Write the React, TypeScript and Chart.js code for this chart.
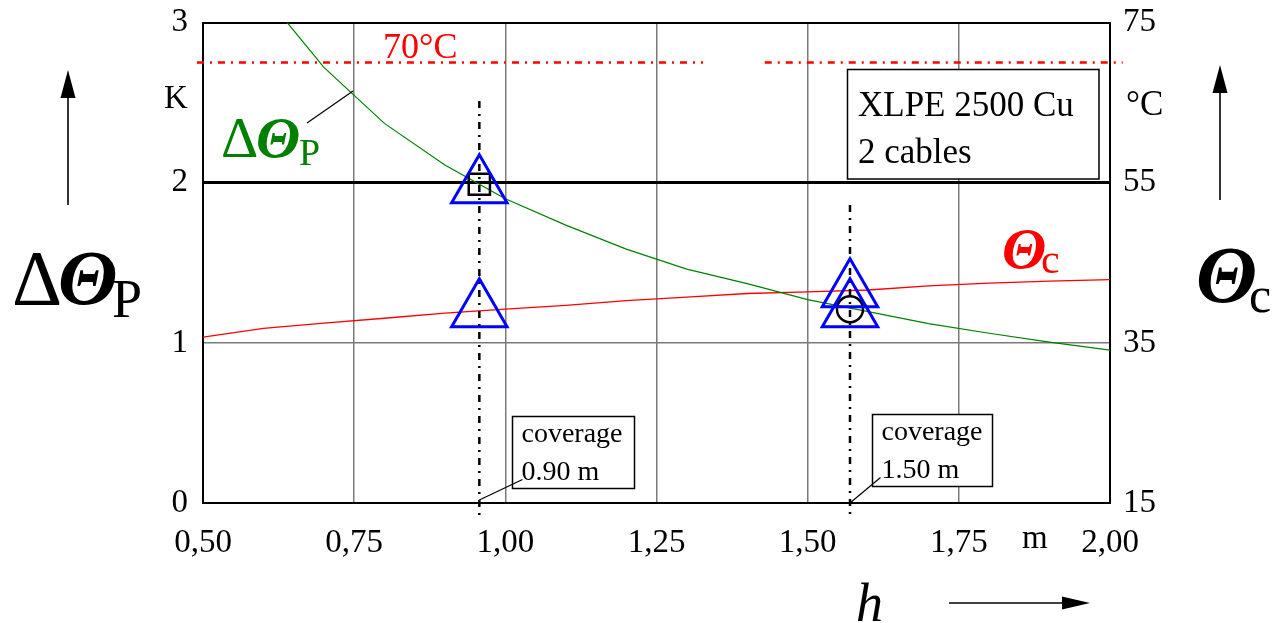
import React, { useEffect, useRef } from 'react';
import { Chart, registerables } from 'chart.js';

Chart.register(...registerables);

// ---- data ----
const xTickMin = 0.5;
const xTickMax = 2.0;
const xTickStep = 0.25;
const leftMin = 0;
const leftMax = 3;
const rightMin = 15;
const rightMax = 75;
const rightStep = 20;

// ΔΘP (K) versus depth h (m)
const greenH = [0.6, 0.7, 0.8, 0.9, 1.0, 1.1, 1.2, 1.3, 1.4, 1.5, 1.6, 1.7, 1.8, 1.9, 2.0];
const deltaThetaP = [3.18, 2.72, 2.37, 2.11, 1.9, 1.735, 1.585, 1.46, 1.37, 1.27, 1.195, 1.12, 1.06, 1.005, 0.954];

// Θc (°C) versus depth h (m)
const redH = [0.5, 0.6, 0.7, 0.8, 0.9, 1.0, 1.1, 1.2, 1.3, 1.4, 1.5, 1.6, 1.7, 1.8, 1.9, 2.0];
const thetaC = [35.7, 36.8, 37.45, 38.07, 38.71, 39.22, 39.68, 40.27, 40.72, 41.16, 41.36, 41.6, 42.1, 42.45, 42.7, 42.9];

// limit temperature line (°C), drawn in two pieces
const limitTemp = 70;
const limitPieces = [[0.49, 1.327], [1.429, 2.021]];

// coverage marks
const coverageH = [0.957, 1.57];
const coverageTop = [2.51, 1.86];
const coverageBottom = -0.075;
const coverageLabels = [['coverage', '0.90 m'], ['coverage', '1.50 m']];

// measured points
const triangleH = [0.957, 0.957, 1.57, 1.57];
const triangleVal = [1.975, 1.2, 1.325, 1.2];
const squareH = [0.957];
const squareVal = [1.99];
const circleH = [1.57];
const circleVal = [1.21];

const infoLines = ['XLPE 2500 Cu', '2 cables'];

const SERIF = '"Liberation Serif", "Times New Roman", serif';

const fmtX = (v: number) => v.toFixed(2).replace('.', ',');

const annotPlugin = {
  id: 'annot',
  afterDraw(chart: any) {
    const ctx: CanvasRenderingContext2D = chart.ctx;
    const xs = chart.scales.x;
    const ys = chart.scales.y;
    ctx.save();
    const text = (s: string, x: number, y: number, font: string, color = '#000') => {
      ctx.font = font;
      ctx.fillStyle = color;
      ctx.textAlign = 'left';
      ctx.textBaseline = 'alphabetic';
      ctx.fillText(s, x, y);
    };
    const line = (x1: number, y1: number, x2: number, y2: number, w = 1.2, c = '#000') => {
      ctx.beginPath();
      ctx.strokeStyle = c;
      ctx.lineWidth = w;
      ctx.setLineDash([]);
      ctx.moveTo(x1, y1);
      ctx.lineTo(x2, y2);
      ctx.stroke();
    };
    const arrow = (x1: number, y1: number, x2: number, y2: number, len: number, half: number) => {
      const ang = Math.atan2(y2 - y1, x2 - x1);
      const bx = x2 - Math.cos(ang) * len;
      const by = y2 - Math.sin(ang) * len;
      line(x1, y1, bx, by, 1.6, '#000');
      ctx.beginPath();
      ctx.fillStyle = '#000';
      ctx.moveTo(x2, y2);
      ctx.lineTo(bx + Math.sin(ang) * half, by - Math.cos(ang) * half);
      ctx.lineTo(bx - Math.sin(ang) * half, by + Math.cos(ang) * half);
      ctx.closePath();
      ctx.fill();
    };

    // big left axis title ΔΘP
    text('Δ', 12, 304, `78px ${SERIF}`);
    text('Θ', 58, 304, `bold italic 78px ${SERIF}`);
    text('P', 112, 317, `54px ${SERIF}`);
    arrow(68, 205, 68, 70, 28, 7.5);

    // big right axis title Θc
    text('Θ', 1196, 302, `bold italic 80px ${SERIF}`);
    text('c', 1249, 312, `50px ${SERIF}`);
    arrow(1220, 200, 1220, 65, 28, 7.5);

    // x title h
    text('h', 856, 621, `italic 54px ${SERIF}`);
    arrow(949, 603, 1090, 603, 28, 6.5);

    // units
    text('K', 164, 108, `33px ${SERIF}`);
    text('°C', 1126, 115, `35px ${SERIF}`);
    text('m', 1022, 548, `33px ${SERIF}`);

    // curve labels
    const g = '#008000';
    text('Δ', 221, 157, `58px ${SERIF}`, g);
    text('Θ', 256, 157, `bold italic 58px ${SERIF}`, g);
    text('P', 299, 165, `38px ${SERIF}`, g);
    line(307, 123, 353, 91, 1.3);

    text('Θ', 1002, 268, `bold italic 58px ${SERIF}`, '#ff0000');
    text('c', 1041, 273, `42px ${SERIF}`, '#ff0000');

    text('70°C', 383, 58, `36px ${SERIF}`, '#ff0000');

    // info box
    ctx.fillStyle = '#fff';
    ctx.fillRect(848, 70, 251, 109);
    ctx.strokeStyle = '#000';
    ctx.lineWidth = 1.5;
    ctx.setLineDash([]);
    ctx.strokeRect(847.5, 69.5, 251.5, 109.5);
    text(infoLines[0], 858, 116, `35px ${SERIF}`);
    text(infoLines[1], 858, 163, `35px ${SERIF}`);

    // coverage boxes
    const boxOff = [33, 22];
    const boxW = [122, 120];
    const boxTop = [416, 414];
    coverageH.forEach((h, i) => {
      const px = xs.getPixelForValue(h);
      const bx = Math.round(px + boxOff[i]) + 0.5;
      const by = boxTop[i] + 0.5;
      ctx.fillStyle = '#fff';
      ctx.fillRect(bx, by, boxW[i], 72);
      ctx.strokeStyle = '#000';
      ctx.lineWidth = 1.5;
      ctx.strokeRect(bx, by, boxW[i], 72);
      text(coverageLabels[i][0], bx + 9, by + 25, `28px ${SERIF}`);
      text(coverageLabels[i][1], bx + 9, by + 63, `28px ${SERIF}`);
      line(px, ys.getPixelForValue(0) - (i === 0 ? 3 : 0), bx + (i === 0 ? 10 : 8), by + 63, 1.2);
    });

    ctx.restore();
  },
};

const noPad = (s: any) => {
  s.paddingTop = 0;
  s.paddingBottom = 0;
  s.paddingLeft = 0;
  s.paddingRight = 0;
};

export default function App() {
  const ref = useRef<HTMLCanvasElement | null>(null);

  useEffect(() => {
    document.body.style.margin = '0';
    const canvas = ref.current;
    if (!canvas) return;

    const datasets: any[] = [];

    datasets.push({
      type: 'scatter',
      label: 'triangles',
      data: triangleH.map((h, i) => ({ x: h, y: triangleVal[i] })),
      pointStyle: 'triangle',
      pointRadius: 32,
      pointBorderWidth: 3,
      pointBorderColor: '#0000ff',
      pointBackgroundColor: 'rgba(0,0,0,0)',
      showLine: false,
      order: 0,
      clip: false,
    });
    datasets.push({
      type: 'scatter',
      label: 'square',
      data: squareH.map((h, i) => ({ x: h, y: squareVal[i] })),
      pointStyle: 'rect',
      pointRadius: 15,
      pointBorderWidth: 2.5,
      pointBorderColor: '#000',
      pointBackgroundColor: 'rgba(0,0,0,0)',
      showLine: false,
      order: 0,
    });
    datasets.push({
      type: 'scatter',
      label: 'circle',
      data: circleH.map((h, i) => ({ x: h, y: circleVal[i] })),
      pointStyle: 'circle',
      pointRadius: 13,
      pointBorderWidth: 2.5,
      pointBorderColor: '#000',
      pointBackgroundColor: 'rgba(0,0,0,0)',
      showLine: false,
      order: 0,
    });
    coverageH.forEach((h, i) => {
      datasets.push({
        type: 'line',
        label: 'coverage' + i,
        data: [
          { x: h, y: coverageTop[i] },
          { x: h, y: coverageBottom },
        ],
        borderColor: '#000',
        borderWidth: 2.5,
        borderDash: [7, 6, 2, 6],
        pointRadius: 0,
        clip: false,
        order: 1,
      });
    });
    const limitData: any[] = [];
    limitPieces.forEach((p, i) => {
      if (i > 0) limitData.push({ x: (limitPieces[i - 1][1] + p[0]) / 2, y: null });
      limitData.push({ x: p[0], y: limitTemp });
      limitData.push({ x: p[1], y: limitTemp });
    });
    datasets.push({
      type: 'line',
      label: 'limit',
      data: limitData,
      yAxisID: 'y1',
      borderColor: '#ff0000',
      borderWidth: 2.5,
      borderDash: [7, 6, 2, 6],
      pointRadius: 0,
      spanGaps: false,
      clip: false,
      order: 2,
    });
    datasets.push({
      type: 'line',
      label: 'ΔΘP',
      data: greenH.map((h, i) => ({ x: h, y: deltaThetaP[i] })),
      borderColor: '#008000',
      borderWidth: 1.2,
      pointRadius: 0,
      tension: 0,
      order: 3,
    });
    datasets.push({
      type: 'line',
      label: 'Θc',
      data: redH.map((h, i) => ({ x: h, y: thetaC[i] })),
      yAxisID: 'y1',
      borderColor: '#ff0000',
      borderWidth: 1.3,
      pointRadius: 0,
      tension: 0,
      order: 3,
    });

    const tickFont = { family: SERIF, size: 33 };

    const chart = new Chart(canvas, {
      type: 'scatter',
      data: { datasets },
      options: {
        animation: false,
        responsive: false,
        maintainAspectRatio: false,
        layout: { autoPadding: false, padding: { top: 22.5, left: 0, right: 0, bottom: 0 } },
        plugins: { legend: { display: false }, tooltip: { enabled: false } },
        scales: {
          x: {
            type: 'linear',
            position: 'bottom',
            min: xTickMin,
            max: xTickMax,
            afterBuildTicks: (s: any) => {
              const t = [];
              for (let v = xTickMin; v <= xTickMax + 1e-9; v += xTickStep) t.push({ value: +v.toFixed(2) });
              s.ticks = t;
            },
            ticks: {
              callback: (v: any) => fmtX(Number(v)),
              font: tickFont,
              color: '#000',
              padding: 21,
              maxRotation: 0,
              autoSkip: false,
            },
            grid: {
              drawTicks: false,
              color: (c: any) => (c.tick && (Math.abs(c.tick.value - xTickMin) < 1e-6 || Math.abs(c.tick.value - xTickMax) < 1e-6) ? '#000' : '#7a7a7a'),
              lineWidth: 1.5,
            },
            border: { display: true, color: '#000', width: 2 },
            afterFit: (s: any) => { s.height = 120; noPad(s); },
          },
          y: {
            type: 'linear',
            position: 'left',
            min: leftMin,
            max: leftMax,
            ticks: { stepSize: 1, font: tickFont, color: '#000', padding: 15 },
            grid: {
              drawTicks: false,
              color: (c: any) => (c.tick && c.tick.value === 1 ? '#7a7a7a' : '#000'),
              lineWidth: (c: any) => (c.tick && c.tick.value === 2 ? 3 : c.tick && c.tick.value === 1 ? 1.5 : 2),
            },
            border: { display: true, color: '#000', width: 2 },
            afterFit: (s: any) => { s.width = 203; noPad(s); },
          },
          y1: {
            type: 'linear',
            position: 'right',
            min: rightMin,
            max: rightMax,
            ticks: { stepSize: rightStep, font: tickFont, color: '#000', padding: 13 },
            grid: { drawTicks: false, drawOnChartArea: false },
            border: { display: true, color: '#000', width: 2 },
            afterFit: (s: any) => { s.width = 175; noPad(s); },
          },
        },
      } as any,
      plugins: [annotPlugin],
    });

    return () => chart.destroy();
  }, []);

  return (
    <div style={{ position: 'absolute', left: 0, top: 0, width: 1285, height: 623, background: '#fff' }}>
      <canvas ref={ref} width={1285} height={623} style={{ display: 'block' }} />
    </div>
  );
}
